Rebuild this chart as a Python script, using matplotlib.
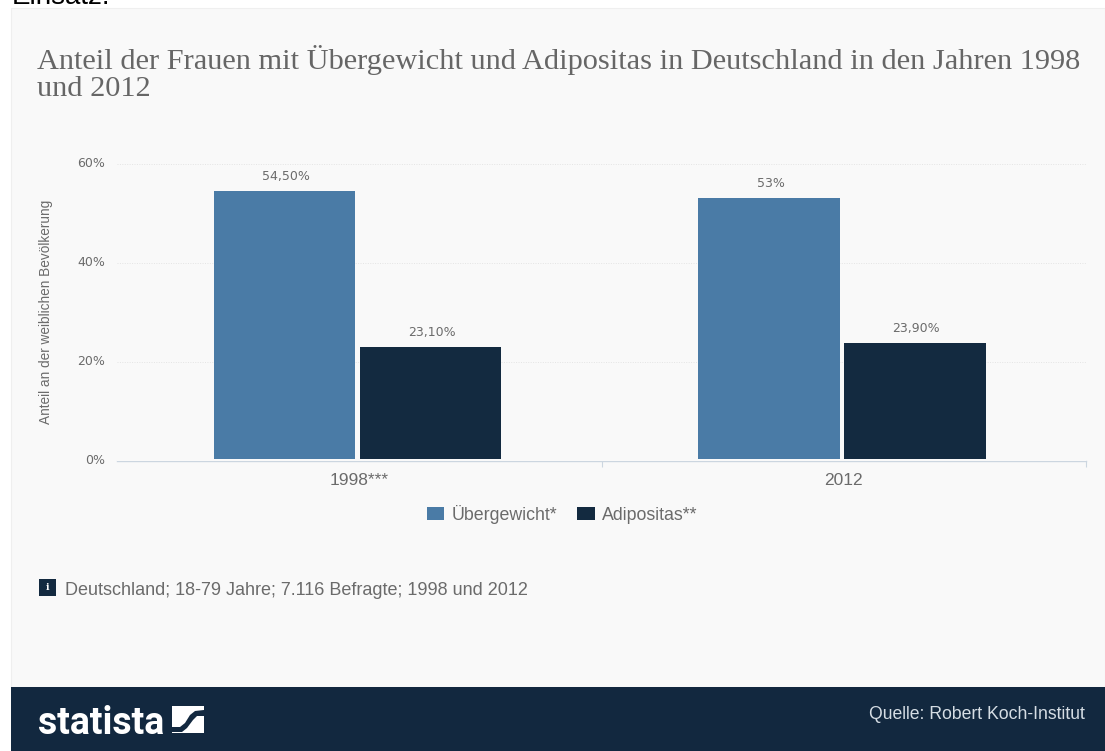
import matplotlib
matplotlib.use('Agg')
import matplotlib.pyplot as plt
from matplotlib.patches import Rectangle, Polygon
from matplotlib.transforms import ScaledTranslation
import numpy as np

years = ['1998***', '2012']
uebergewicht = [54.5, 53]
adipositas = [23.1, 23.9]
uebergewicht_labels = ['54,50%', '53%']
adipositas_labels = ['23,10%', '23,90%']
y_ticks = [0, 20, 40, 60]
y_tick_labels = ['0%', '20%', '40%', '60%']

W, H = 1105, 751
panel_color = '#f9f9f9'
navy = '#12283f'
blue = '#4a7ba6'
dark = '#132a40'
grey = '#6b6b6b'

fig = plt.figure(figsize=(W / 100, H / 100), dpi=100, facecolor='white')

# background layer in pixel coordinates
bg = fig.add_axes([0, 0, 1, 1], zorder=0)
bg.set_xlim(0, W)
bg.set_ylim(H, 0)
bg.axis('off')
bg.add_patch(Rectangle((11, 8), W - 11, 679, fc=panel_color, ec='#efefef', lw=0.8))
bg.add_patch(Rectangle((11, 687), W - 11, 64, fc=navy, ec='none'))
bg.text(12, 4, 'Einsatz.', family='Liberation Sans', fontsize=20, color='black', va='baseline')

bg.text(37, 96, 'Anteil der Frauen mit Übergewicht und Adipositas in Deutschland in den Jahren 1998\nund 2012',
        family='Liberation Serif', fontsize=21.9, color='#666666', va='baseline', linespacing=1.05)

# info box and note
bg.add_patch(Rectangle((39, 579), 17, 17, fc=dark, ec='none'))
bg.text(47.5, 587.5, 'i', family='DejaVu Serif', fontsize=7, fontweight='bold', color='white', ha='center', va='center')
bg.text(65, 595, 'Deutschland; 18-79 Jahre; 7.116 Befragte; 1998 und 2012',
        family='Liberation Sans', fontsize=13, color=grey, va='baseline')

# footer
bg.text(38, 734, 'statista', family='Roboto', fontsize=27, fontweight='bold', color='white', va='baseline')
bg.add_patch(Rectangle((172, 706), 32, 27, fc='white', ec='none'))
bg.add_patch(Polygon([(172, 727), (180, 727), (185, 723), (190, 715), (195, 711), (204, 710), (204, 716),
                      (197, 716), (193, 720), (187, 728), (182, 732), (172, 732)], fc=navy, ec='none'))
bg.text(1085, 719, 'Quelle: Robert Koch-Institut', family='Liberation Sans', fontsize=12.7, color='#d5dde4',
        ha='right', va='baseline')

# main chart
ax = fig.add_axes([117 / W, (H - 461) / H, (1086 - 117) / W, (461 - 163.6) / H], zorder=1)
ax.patch.set_alpha(0)
x = np.arange(len(years))
width = 0.292
bars1 = ax.bar(x - 0.154, uebergewicht, width, color=blue, label='Übergewicht*', zorder=3)
bars2 = ax.bar(x + 0.147, adipositas, width, color=dark, label='Adipositas**', zorder=3)

# small gap between the bars and the axis line
ax.axhspan(0, 0.5, color=panel_color, lw=0, zorder=4)

for bars, labels in [(bars1, uebergewicht_labels), (bars2, adipositas_labels)]:
    for rect, lab in zip(bars, labels):
        ax.annotate(lab, (rect.get_x() + rect.get_width() / 2, rect.get_height()), xytext=(1, 5.7),
                    textcoords='offset points', ha='center', va='bottom', fontsize=9, color=grey,
                    family='DejaVu Sans')

ax.set_xlim(-0.5, 1.5)
ax.set_ylim(0, 60)
ax.set_yticks(y_ticks, y_tick_labels, family='DejaVu Sans', fontsize=9, color=grey)
ax.set_xticks(x, years, family='Liberation Sans', fontsize=12.5, color=grey)
ax.set_xticks([0.5, 1.5], minor=True)
ax.tick_params(axis='x', which='major', length=0, pad=8.5)
ax.tick_params(axis='x', which='minor', length=4, width=0.8, color='#ccd6e0')
ax.tick_params(axis='y', length=0, pad=8.5)
for t in ax.get_yticklabels():
    t.set_transform(t.get_transform() + ScaledTranslation(0, 1.5 / 100, fig.dpi_scale_trans))
ax.grid(axis='y', color='#e4e4e4', lw=0.7, ls=(0, (1, 1.5)), zorder=0)
ax.set_axisbelow(True)
for side in ['top', 'right', 'left']:
    ax.spines[side].set_visible(False)
ax.spines['bottom'].set_color('#ccd6e0')
ax.spines['bottom'].set_linewidth(1)

bg.text(46, 312, 'Anteil an der weiblichen Bevölkerung', family='Liberation Sans', fontsize=9.8, color=grey,
        rotation=90, ha='center', va='center')

fig.legend(handles=[bars1, bars2], loc='center', bbox_to_anchor=(562 / W, (H - 514) / H), ncol=2, frameon=False,
           prop={'family': 'Liberation Sans', 'size': 12.8}, labelcolor=grey, handlelength=1.0, handleheight=0.79,
           handletextpad=0.4, columnspacing=1.12)

fig.savefig('out.png', dpi=100, facecolor=fig.get_facecolor())
